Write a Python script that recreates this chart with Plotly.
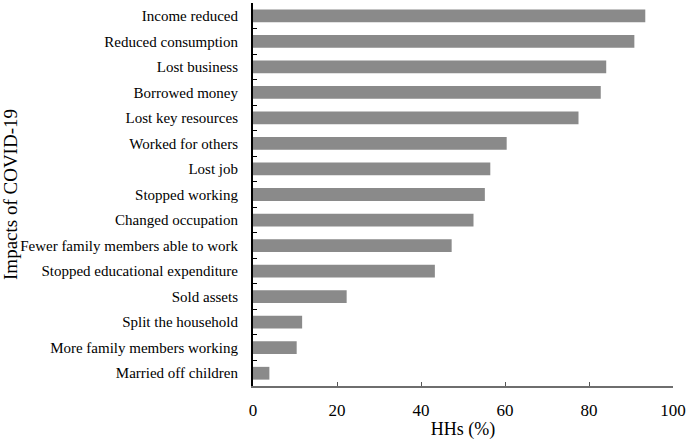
import plotly.graph_objects as go

impacts = [
    "Income reduced",
    "Reduced consumption",
    "Lost business",
    "Borrowed money",
    "Lost key resources",
    "Worked for others",
    "Lost job",
    "Stopped working",
    "Changed occupation",
    "Fewer family members able to work",
    "Stopped educational expenditure",
    "Sold assets",
    "Split the household",
    "More family members working",
    "Married off children",
]
hhs_pct = [93.4, 90.8, 84.1, 82.8, 77.5, 60.4, 56.5, 55.2, 52.5, 47.3, 43.3, 22.3, 11.7, 10.4, 3.9]
x_ticks = [0, 20, 40, 60, 80, 100]

font = "Liberation Serif"

fig = go.Figure(go.Bar(
    x=hhs_pct,
    y=impacts,
    orientation="h",
    marker=dict(color="#8a8a8a", line=dict(width=0)),
))

fig.update_layout(
    width=689,
    height=440,
    margin=dict(l=253, r=15, t=3, b=51),
    paper_bgcolor="white",
    plot_bgcolor="white",
    bargap=0.5,
    showlegend=False,
    font=dict(family=font, color="black"),
    xaxis=dict(
        range=[0, 100],
        tickvals=x_ticks,
        ticks="inside",
        ticklen=4,
        tickcolor="#555",
        tickwidth=1,
        showline=True,
        linecolor="#6e6e6e",
        linewidth=2,
        showgrid=False,
        zeroline=False,
        tickfont=dict(size=17, family=font),
        ticklabelstandoff=8,
        title=dict(text="HHs (%)", font=dict(size=18, family=font), standoff=4),
    ),
    yaxis=dict(
        categoryorder="array",
        categoryarray=impacts,
        autorange="reversed",
        ticks="inside",
        tickson="boundaries",
        ticklen=4,
        tickcolor="black",
        tickwidth=1,
        showline=True,
        linecolor="black",
        linewidth=2,
        showgrid=False,
        zeroline=False,
        tickfont=dict(size=15, family=font),
        ticklabelstandoff=10,
        title=dict(text="Impacts of COVID-19", font=dict(size=19, family=font), standoff=2),
    ),
)

# drop the default page margin so the figure sits at the window corner
fig.write_html(
    "out.html",
    config={"displayModeBar": False},
    post_script="document.body.style.margin='0';",
)
